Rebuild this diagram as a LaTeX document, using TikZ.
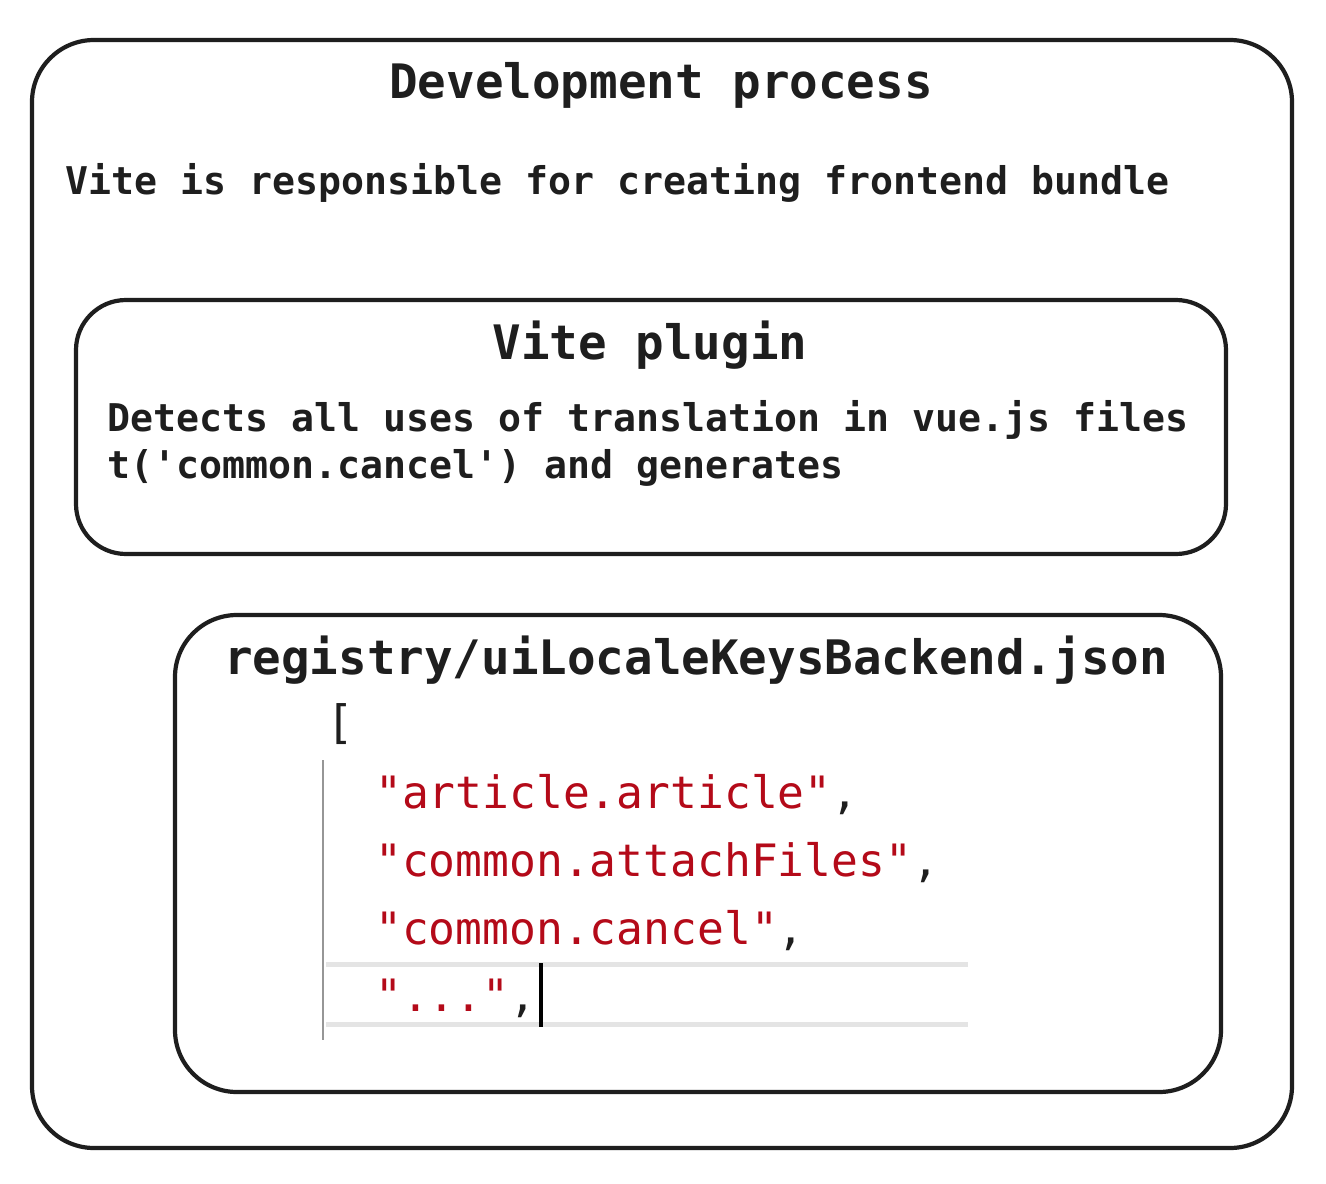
\documentclass[tikz,border=0pt]{standalone}
\usepackage{fontspec}
\setmonofont{DejaVu Sans Mono}
\definecolor{ink}{RGB}{30,30,30}
\definecolor{codered}{RGB}{180,10,25}
\definecolor{guide}{RGB}{150,150,150}
\definecolor{rowline}{RGB}{228,228,228}
\begin{document}
\begin{tikzpicture}[x=1pt,y=-1pt,
  frame/.style={draw=ink,line width=4.2pt,rounded corners=#1},
  titletext/.style={font=\ttfamily\bfseries\fontsize{47.5}{56}\selectfont,text=ink,inner sep=0pt},
  bodytext/.style={font=\ttfamily\bfseries\fontsize{38.2}{46}\selectfont,text=ink,inner sep=0pt,anchor=base west},
  codetext/.style={font=\ttfamily\fontsize{44.6}{54}\selectfont,text=codered,inner sep=0pt,anchor=base west},
  blacktext/.style={font=\ttfamily\fontsize{46}{54}\selectfont,text=ink,inner sep=0pt,anchor=base west}]
\useasboundingbox (0,0) rectangle (1326,1184);
\fill[white] (0,0) rectangle (1326,1184);
% outer box
\draw[frame=62] (32,40) rectangle (1292,1148);
\node[titletext,anchor=base] (t1) at (661,98) {Development process};
\node[bodytext] (d1) at (65,194) {Vite is responsible for creating frontend bundle};
% plugin box
\draw[frame=50] (76,300) rectangle (1226,554);
\node[titletext,anchor=base] (t2) at (650,359) {Vite plugin};
\node[bodytext] (d2) at (107,431) {Detects all uses of translation in vue.js files};
\node[bodytext] (d3) at (107,478) {t('common.cancel') and generates};
% registry box
\draw[frame=62] (175,615) rectangle (1221,1092);
\node[titletext,anchor=base] (t3) at (696,674) {registry/uiLocaleKeysBackend.json};
\node[blacktext] (br) at (326,738) {[};
\draw[guide,line width=2pt] (323,760) -- (323,1040);
\fill[rowline] (326,962) rectangle (968,967);
\fill[rowline] (326,1022) rectangle (968,1027);
\node[codetext] (k1) at (375,808) {"article.article"\textcolor{ink}{,}};
\node[codetext] (k2) at (375,876) {"common.attachFiles"\textcolor{ink}{,}};
\node[codetext] (k3) at (375,944) {"common.cancel"\textcolor{ink}{,}};
\node[codetext] (k4) at (375,1011) {"..."\textcolor{ink}{,}};
\draw[black,line width=4pt] (541,963) -- (541,1027);
\end{tikzpicture}
\end{document}
